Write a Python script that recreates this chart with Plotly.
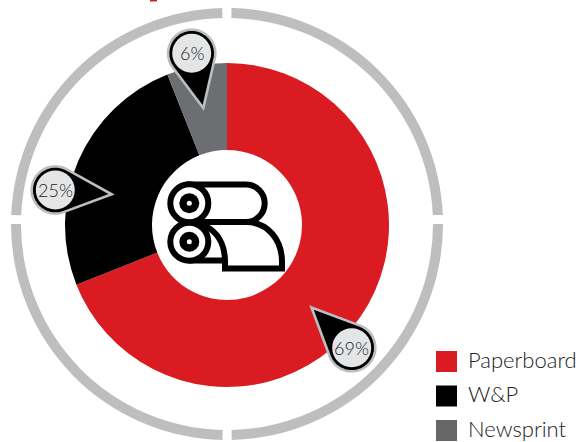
import numpy as np
import plotly.graph_objects as go

W, H = 580, 442
categories = ["Paperboard", "W&P", "Newsprint"]
values = [69, 25, 6]
colors = ["#da1c22", "#000000", "#6d6e71"]
pct_labels = ["69%", "25%", "6%"]

# outer decorative ring: arcs and the gaps between them (degrees, clockwise from top)
ring_parts = [1.2, 86.4, 2.4, 88.8, 2.4, 88.8, 2.4, 86.4, 1.2]
ring_colors = ["#ffffff", "#bcbec0"] * 4 + ["#ffffff"]

cx, cy = 227, 225
R, hole_r = 162, 75
ring_cy, RR, RR_in = 224, 216, 206


def dom(c, r, size, flip=False):
    a, b = (c - r) / size, (c + r) / size
    if flip:
        a, b = 1 - b, 1 - a
    return [max(a, 0), min(b, 1)]


fig = go.Figure()
fig.add_trace(go.Pie(values=ring_parts, sort=False, direction="clockwise", rotation=0,
                     hole=RR_in / RR, marker=dict(colors=ring_colors, line=dict(width=0)),
                     textinfo="none", hoverinfo="skip", showlegend=False,
                     domain=dict(x=dom(cx, RR, W), y=dom(ring_cy, RR, H, True))))
fig.add_trace(go.Pie(values=values, labels=categories, sort=False, direction="clockwise", rotation=0,
                     hole=hole_r / R, marker=dict(colors=colors, line=dict(width=0)),
                     textinfo="none", showlegend=False,
                     domain=dict(x=dom(cx, R, W), y=dom(cy, R, H, True))))

shapes = []


def pin_path(c, r, tip):
    c, tip = np.array(c, float), np.array(tip, float)
    d = tip - c
    dist = np.hypot(*d)
    base = np.arctan2(d[1], d[0])
    off = np.arccos(r / dist)
    ang = np.linspace(base + off, base + 2 * np.pi - off, 48)
    pts = [tuple(tip)] + [(c[0] + r * np.cos(a), c[1] + r * np.sin(a)) for a in ang]
    return "M" + "L".join(f"{x:.2f},{y:.2f}" for x, y in pts) + "Z"


def circle(c, r, fill, line=None, lw=0):
    shapes.append(dict(type="circle", xref="x", yref="y", x0=c[0] - r, x1=c[0] + r,
                       y0=c[1] - r, y1=c[1] + r, fillcolor=fill,
                       line=dict(color=line or fill, width=lw)))


pins = [((351.7, 347.7), (311.5, 307.5)), ((55.3, 190), (111.7, 194.3)), ((191.7, 53.3), (203.3, 108))]
for (c, tip) in pins:
    shapes.append(dict(type="path", xref="x", yref="y", path=pin_path(c, 23.6, tip), fillcolor="#000000",
                       line=dict(color="#bcbec0", width=2.6)))
    circle(c, 19.5, "#e4e5e7")

# icon
K = dict(color="#000000", width=6)
shapes.append(dict(type="path", xref="x", yref="y", fillcolor="#ffffff", line=K,
                   path="M205,222 L246,222 C268,222 282,240 282,262 L282,268.5 L225,268.5 L225,262 C225,245 218,232 205,226 Z"))
shapes.append(dict(type="path", xref="x", yref="y", fillcolor="#ffffff", line=K,
                   path="M189,184.5 L246,184.5 C256.5,184.5 264.7,193 264.7,203.2 C264.7,213.5 256.5,222 246,222 L189,222 Z"))
shapes.append(dict(type="path", xref="x", yref="y", line=K, path="M189,260.5 L225,260.5"))
for c in [(189.3, 203.3), (189.3, 241.7)]:
    circle(c, 19, "#ffffff", "#000000", 6)
    circle(c, 10, "#000000")
    circle(c, 2.5, "#ffffff")

# sliver of cropped artwork at the top edge
shapes.append(dict(type="rect", xref="x", yref="y", x0=150, x1=157, y0=0, y1=1.5,
                   fillcolor="#da1c22", line=dict(width=0)))

annotations = []
font = "Lato Light, Lato, sans-serif"
for (c, _), t in zip(pins, pct_labels):
    annotations.append(dict(x=c[0], y=c[1], xref="x", yref="y", text=t, showarrow=False,
                            font=dict(family=font, size=18, color="#222222")))

# legend
for i, (name, col) in enumerate(zip(categories, colors)):
    y = 361.5 + i * 34.5
    shapes.append(dict(type="rect", xref="x", yref="y", x0=436, x1=457, y0=y - 10.5, y1=y + 10.5,
                       fillcolor="#666666" if i == 2 else col, line=dict(width=0)))
    annotations.append(dict(x=466, y=y - 2.5, xref="x", yref="y", text=name, showarrow=False, xanchor="left",
                            font=dict(family=font, size=22, color="#222222")))

axis = dict(visible=False, fixedrange=True)
fig.update_layout(width=W, height=H, margin=dict(l=0, r=0, t=0, b=0), paper_bgcolor="#ffffff",
                  plot_bgcolor="rgba(0,0,0,0)", showlegend=False, shapes=shapes, annotations=annotations,
                  xaxis=dict(range=[0, W], **axis), yaxis=dict(range=[H, 0], **axis))
fig.write_html("out.html", config=dict(displayModeBar=False),
               post_script="document.body.style.margin='0';document.body.style.overflow='hidden';")
